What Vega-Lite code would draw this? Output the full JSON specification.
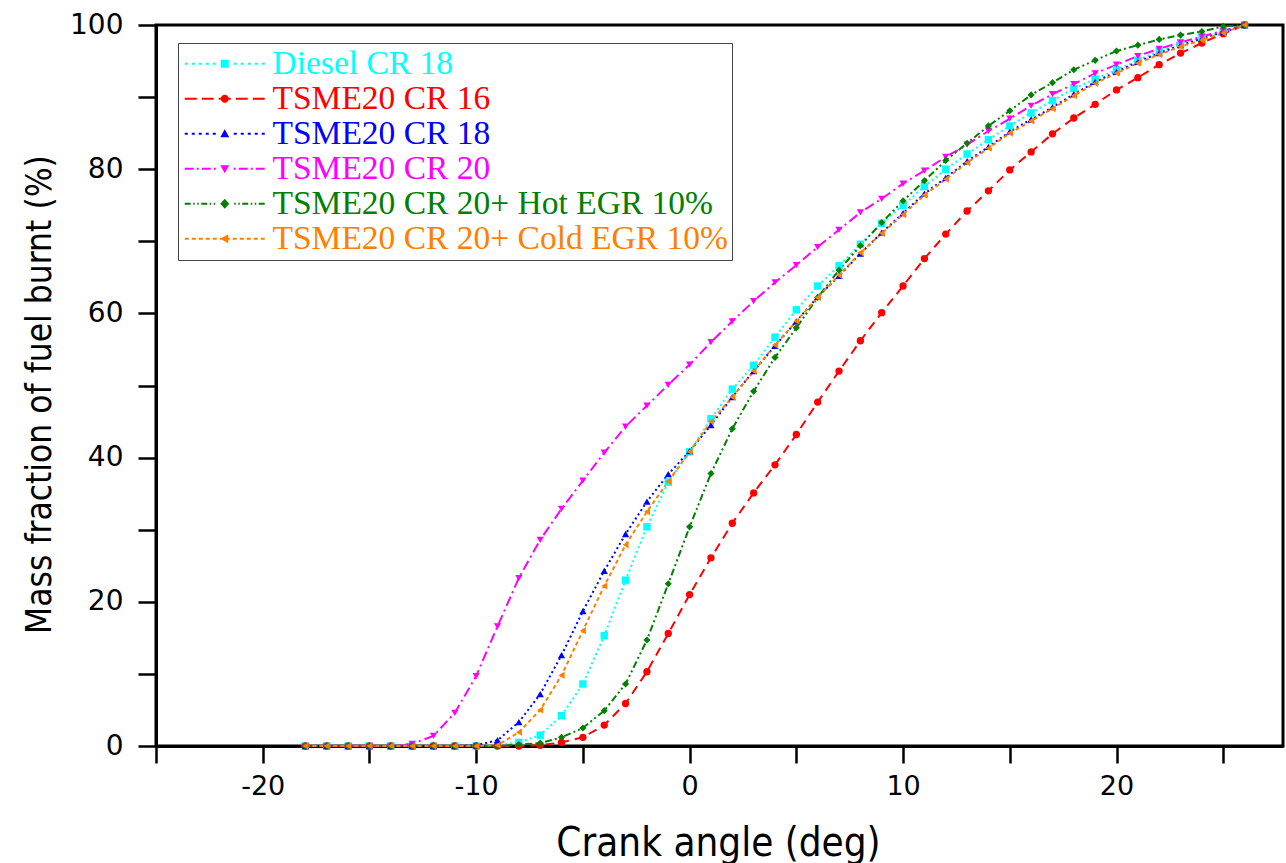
{
  "$schema": "https://vega.github.io/schema/vega-lite/v6.json",
  "width": 1127,
  "height": 721,
  "autosize": {"type": "none"},
  "padding": {"left": 156, "top": 25, "right": 3, "bottom": 117},
  "background": "white",
  "config": {"view": {"stroke": "black", "strokeWidth": 3}},
  "data": {"values": [
    {"angle": -18, "Diesel CR 18": 0, "TSME20 CR 16": 0, "TSME20 CR 18": 0, "TSME20 CR 20": 0, "TSME20 CR 20+ Hot EGR 10%": 0, "TSME20 CR 20+ Cold EGR 10%": 0},
    {"angle": -17, "Diesel CR 18": 0, "TSME20 CR 16": 0, "TSME20 CR 18": 0, "TSME20 CR 20": 0, "TSME20 CR 20+ Hot EGR 10%": 0, "TSME20 CR 20+ Cold EGR 10%": 0},
    {"angle": -16, "Diesel CR 18": 0, "TSME20 CR 16": 0, "TSME20 CR 18": 0, "TSME20 CR 20": 0, "TSME20 CR 20+ Hot EGR 10%": 0, "TSME20 CR 20+ Cold EGR 10%": 0},
    {"angle": -15, "Diesel CR 18": 0, "TSME20 CR 16": 0, "TSME20 CR 18": 0, "TSME20 CR 20": 0, "TSME20 CR 20+ Hot EGR 10%": 0, "TSME20 CR 20+ Cold EGR 10%": 0},
    {"angle": -14, "Diesel CR 18": 0, "TSME20 CR 16": 0, "TSME20 CR 18": 0, "TSME20 CR 20": 0, "TSME20 CR 20+ Hot EGR 10%": 0, "TSME20 CR 20+ Cold EGR 10%": 0},
    {"angle": -13, "Diesel CR 18": 0, "TSME20 CR 16": 0, "TSME20 CR 18": 0, "TSME20 CR 20": 0.3, "TSME20 CR 20+ Hot EGR 10%": 0, "TSME20 CR 20+ Cold EGR 10%": 0},
    {"angle": -12, "Diesel CR 18": 0, "TSME20 CR 16": 0, "TSME20 CR 18": 0, "TSME20 CR 20": 1.4, "TSME20 CR 20+ Hot EGR 10%": 0, "TSME20 CR 20+ Cold EGR 10%": 0},
    {"angle": -11, "Diesel CR 18": 0, "TSME20 CR 16": 0, "TSME20 CR 18": 0, "TSME20 CR 20": 4.6, "TSME20 CR 20+ Hot EGR 10%": 0, "TSME20 CR 20+ Cold EGR 10%": 0},
    {"angle": -10, "Diesel CR 18": 0, "TSME20 CR 16": 0, "TSME20 CR 18": 0.1, "TSME20 CR 20": 9.7, "TSME20 CR 20+ Hot EGR 10%": 0, "TSME20 CR 20+ Cold EGR 10%": 0},
    {"angle": -9, "Diesel CR 18": 0.1, "TSME20 CR 16": 0, "TSME20 CR 18": 0.8, "TSME20 CR 20": 16.6, "TSME20 CR 20+ Hot EGR 10%": 0, "TSME20 CR 20+ Cold EGR 10%": 0.1},
    {"angle": -8, "Diesel CR 18": 0.5, "TSME20 CR 16": 0, "TSME20 CR 18": 3.3, "TSME20 CR 20": 23.3, "TSME20 CR 20+ Hot EGR 10%": 0.2, "TSME20 CR 20+ Cold EGR 10%": 1.9},
    {"angle": -7, "Diesel CR 18": 1.5, "TSME20 CR 16": 0.1, "TSME20 CR 18": 7.2, "TSME20 CR 20": 28.6, "TSME20 CR 20+ Hot EGR 10%": 0.4, "TSME20 CR 20+ Cold EGR 10%": 5},
    {"angle": -6, "Diesel CR 18": 4.2, "TSME20 CR 16": 0.5, "TSME20 CR 18": 12.6, "TSME20 CR 20": 32.9, "TSME20 CR 20+ Hot EGR 10%": 1.2, "TSME20 CR 20+ Cold EGR 10%": 9.8},
    {"angle": -5, "Diesel CR 18": 8.6, "TSME20 CR 16": 1.2, "TSME20 CR 18": 18.7, "TSME20 CR 20": 36.8, "TSME20 CR 20+ Hot EGR 10%": 2.5, "TSME20 CR 20+ Cold EGR 10%": 16},
    {"angle": -4, "Diesel CR 18": 15.3, "TSME20 CR 16": 2.9, "TSME20 CR 18": 24.3, "TSME20 CR 20": 40.7, "TSME20 CR 20+ Hot EGR 10%": 4.9, "TSME20 CR 20+ Cold EGR 10%": 22.2},
    {"angle": -3, "Diesel CR 18": 23, "TSME20 CR 16": 5.9, "TSME20 CR 18": 29.4, "TSME20 CR 20": 44.3, "TSME20 CR 20+ Hot EGR 10%": 8.6, "TSME20 CR 20+ Cold EGR 10%": 27.9},
    {"angle": -2, "Diesel CR 18": 30.4, "TSME20 CR 16": 10.3, "TSME20 CR 18": 33.9, "TSME20 CR 20": 47.2, "TSME20 CR 20+ Hot EGR 10%": 14.7, "TSME20 CR 20+ Cold EGR 10%": 32.5},
    {"angle": -1, "Diesel CR 18": 36.6, "TSME20 CR 16": 15.6, "TSME20 CR 18": 37.7, "TSME20 CR 20": 50.1, "TSME20 CR 20+ Hot EGR 10%": 22.5, "TSME20 CR 20+ Cold EGR 10%": 36.7},
    {"angle": 0, "Diesel CR 18": 40.8, "TSME20 CR 16": 21, "TSME20 CR 18": 40.9, "TSME20 CR 20": 52.9, "TSME20 CR 20+ Hot EGR 10%": 30.4, "TSME20 CR 20+ Cold EGR 10%": 40.8},
    {"angle": 1, "Diesel CR 18": 45.4, "TSME20 CR 16": 26.1, "TSME20 CR 18": 44.5, "TSME20 CR 20": 56, "TSME20 CR 20+ Hot EGR 10%": 37.8, "TSME20 CR 20+ Cold EGR 10%": 45},
    {"angle": 2, "Diesel CR 18": 49.5, "TSME20 CR 16": 30.9, "TSME20 CR 18": 48.4, "TSME20 CR 20": 58.9, "TSME20 CR 20+ Hot EGR 10%": 44, "TSME20 CR 20+ Cold EGR 10%": 48.4},
    {"angle": 3, "Diesel CR 18": 52.8, "TSME20 CR 16": 35.1, "TSME20 CR 18": 52, "TSME20 CR 20": 61.7, "TSME20 CR 20+ Hot EGR 10%": 49.2, "TSME20 CR 20+ Cold EGR 10%": 52},
    {"angle": 4, "Diesel CR 18": 56.7, "TSME20 CR 16": 39, "TSME20 CR 18": 55.5, "TSME20 CR 20": 64.3, "TSME20 CR 20+ Hot EGR 10%": 53.9, "TSME20 CR 20+ Cold EGR 10%": 55.6},
    {"angle": 5, "Diesel CR 18": 60.5, "TSME20 CR 16": 43.2, "TSME20 CR 18": 58.9, "TSME20 CR 20": 66.7, "TSME20 CR 20+ Hot EGR 10%": 58, "TSME20 CR 20+ Cold EGR 10%": 58.9},
    {"angle": 6, "Diesel CR 18": 63.8, "TSME20 CR 16": 47.7, "TSME20 CR 18": 62.3, "TSME20 CR 20": 69.2, "TSME20 CR 20+ Hot EGR 10%": 62.2, "TSME20 CR 20+ Cold EGR 10%": 62.2},
    {"angle": 7, "Diesel CR 18": 66.6, "TSME20 CR 16": 52, "TSME20 CR 18": 65.2, "TSME20 CR 20": 71.6, "TSME20 CR 20+ Hot EGR 10%": 66, "TSME20 CR 20+ Cold EGR 10%": 65.3},
    {"angle": 8, "Diesel CR 18": 69.6, "TSME20 CR 16": 56.2, "TSME20 CR 18": 68.3, "TSME20 CR 20": 74, "TSME20 CR 20+ Hot EGR 10%": 69.4, "TSME20 CR 20+ Cold EGR 10%": 68.4},
    {"angle": 9, "Diesel CR 18": 72.5, "TSME20 CR 16": 60.1, "TSME20 CR 18": 71.2, "TSME20 CR 20": 75.9, "TSME20 CR 20+ Hot EGR 10%": 72.6, "TSME20 CR 20+ Cold EGR 10%": 71.1},
    {"angle": 10, "Diesel CR 18": 75, "TSME20 CR 16": 63.8, "TSME20 CR 18": 73.9, "TSME20 CR 20": 78, "TSME20 CR 20+ Hot EGR 10%": 75.6, "TSME20 CR 20+ Cold EGR 10%": 73.7},
    {"angle": 11, "Diesel CR 18": 77.6, "TSME20 CR 16": 67.6, "TSME20 CR 18": 76.6, "TSME20 CR 20": 79.8, "TSME20 CR 20+ Hot EGR 10%": 78.4, "TSME20 CR 20+ Cold EGR 10%": 76.4},
    {"angle": 12, "Diesel CR 18": 80, "TSME20 CR 16": 71, "TSME20 CR 18": 78.8, "TSME20 CR 20": 81.7, "TSME20 CR 20+ Hot EGR 10%": 81.2, "TSME20 CR 20+ Cold EGR 10%": 78.6},
    {"angle": 13, "Diesel CR 18": 82.1, "TSME20 CR 16": 74.2, "TSME20 CR 18": 81.1, "TSME20 CR 20": 83.4, "TSME20 CR 20+ Hot EGR 10%": 83.6, "TSME20 CR 20+ Cold EGR 10%": 80.9},
    {"angle": 14, "Diesel CR 18": 84.1, "TSME20 CR 16": 77, "TSME20 CR 18": 83.1, "TSME20 CR 20": 85.3, "TSME20 CR 20+ Hot EGR 10%": 86, "TSME20 CR 20+ Cold EGR 10%": 82.9},
    {"angle": 15, "Diesel CR 18": 86, "TSME20 CR 16": 79.9, "TSME20 CR 18": 85.2, "TSME20 CR 20": 87, "TSME20 CR 20+ Hot EGR 10%": 88.1, "TSME20 CR 20+ Cold EGR 10%": 85},
    {"angle": 16, "Diesel CR 18": 87.8, "TSME20 CR 16": 82.4, "TSME20 CR 18": 86.9, "TSME20 CR 20": 88.8, "TSME20 CR 20+ Hot EGR 10%": 90.3, "TSME20 CR 20+ Cold EGR 10%": 86.7},
    {"angle": 17, "Diesel CR 18": 89.5, "TSME20 CR 16": 84.9, "TSME20 CR 18": 88.6, "TSME20 CR 20": 90.4, "TSME20 CR 20+ Hot EGR 10%": 92, "TSME20 CR 20+ Cold EGR 10%": 88.4},
    {"angle": 18, "Diesel CR 18": 91.2, "TSME20 CR 16": 87.1, "TSME20 CR 18": 90.4, "TSME20 CR 20": 91.8, "TSME20 CR 20+ Hot EGR 10%": 93.8, "TSME20 CR 20+ Cold EGR 10%": 90.2},
    {"angle": 19, "Diesel CR 18": 92.5, "TSME20 CR 16": 89, "TSME20 CR 18": 92.1, "TSME20 CR 20": 93.3, "TSME20 CR 20+ Hot EGR 10%": 95.1, "TSME20 CR 20+ Cold EGR 10%": 91.9},
    {"angle": 20, "Diesel CR 18": 93.8, "TSME20 CR 16": 91, "TSME20 CR 18": 93.5, "TSME20 CR 20": 94.5, "TSME20 CR 20+ Hot EGR 10%": 96.4, "TSME20 CR 20+ Cold EGR 10%": 93.3},
    {"angle": 21, "Diesel CR 18": 95.1, "TSME20 CR 16": 92.7, "TSME20 CR 18": 94.9, "TSME20 CR 20": 95.7, "TSME20 CR 20+ Hot EGR 10%": 97.2, "TSME20 CR 20+ Cold EGR 10%": 94.7},
    {"angle": 22, "Diesel CR 18": 96.4, "TSME20 CR 16": 94.5, "TSME20 CR 18": 96.1, "TSME20 CR 20": 96.7, "TSME20 CR 20+ Hot EGR 10%": 98, "TSME20 CR 20+ Cold EGR 10%": 95.9},
    {"angle": 23, "Diesel CR 18": 97.4, "TSME20 CR 16": 96.1, "TSME20 CR 18": 97.2, "TSME20 CR 20": 97.6, "TSME20 CR 20+ Hot EGR 10%": 98.6, "TSME20 CR 20+ Cold EGR 10%": 97},
    {"angle": 24, "Diesel CR 18": 98.3, "TSME20 CR 16": 97.5, "TSME20 CR 18": 98.1, "TSME20 CR 20": 98.4, "TSME20 CR 20+ Hot EGR 10%": 99.1, "TSME20 CR 20+ Cold EGR 10%": 97.9},
    {"angle": 25, "Diesel CR 18": 99.1, "TSME20 CR 16": 98.8, "TSME20 CR 18": 99, "TSME20 CR 20": 99.2, "TSME20 CR 20+ Hot EGR 10%": 99.8, "TSME20 CR 20+ Cold EGR 10%": 98.9},
    {"angle": 26, "Diesel CR 18": 100, "TSME20 CR 16": 100, "TSME20 CR 18": 100, "TSME20 CR 20": 100, "TSME20 CR 20+ Hot EGR 10%": 100, "TSME20 CR 20+ Cold EGR 10%": 100}
  ]},
  "transform": [
    {"fold": ["Diesel CR 18", "TSME20 CR 16", "TSME20 CR 18", "TSME20 CR 20", "TSME20 CR 20+ Hot EGR 10%", "TSME20 CR 20+ Cold EGR 10%"], "as": ["series", "mfb"]}
  ],
  "encoding": {
    "x": {
      "field": "angle", "type": "quantitative",
      "scale": {"domain": [-25, 27.8], "nice": false, "zero": false},
      "axis": {
        "values": [-25, -20, -15, -10, -5, 0, 5, 10, 15, 20, 25],
        "labelExpr": "datum.value % 10 === 0 ? toString(datum.value) : ''",
        "title": "Crank angle (deg)",
        "grid": false,
        "domainColor": "black", "domainWidth": 3,
        "tickColor": "black", "tickWidth": 2.5, "tickSize": 17,
        "labelPadding": 10, "labelFont": "DejaVu Sans", "labelFontSize": 27, "labelColor": "black",
        "labelFlush": false, "labelOverlap": false,
        "titleFont": "DejaVu Sans Condensed, DejaVu Sans", "titleFontSize": 40, "titleFontWeight": "normal", "titleColor": "black",
        "titleX": 562, "titleY": 109, "titleBaseline": "alphabetic", "titleAlign": "center"
      }
    },
    "y": {
      "field": "mfb", "type": "quantitative",
      "scale": {"domain": [0, 100], "nice": false},
      "axis": {
        "values": [0, 10, 20, 30, 40, 50, 60, 70, 80, 90, 100],
        "labelExpr": "datum.value % 20 === 0 ? toString(datum.value) : ''",
        "title": "Mass fraction of fuel burnt (%)",
        "grid": false,
        "domainColor": "black", "domainWidth": 3,
        "tickColor": "black", "tickWidth": 2.5, "tickSize": 18,
        "labelPadding": 15, "labelFont": "DejaVu Sans", "labelFontSize": 28, "labelColor": "black",
        "labelFlush": false, "labelOverlap": false,
        "titleFont": "DejaVu Sans Condensed, DejaVu Sans", "titleFontSize": 35, "titleFontWeight": "normal", "titleColor": "black",
        "titleX": -106, "titleY": 369, "titleBaseline": "alphabetic", "titleAlign": "center", "titleAngle": 270
      }
    }
  },
  "layer": [
    {
      "mark": {"type": "line", "strokeWidth": 2},
      "encoding": {
        "color": {"field": "series", "type": "nominal",
          "scale": {"domain": ["Diesel CR 18", "TSME20 CR 16", "TSME20 CR 18", "TSME20 CR 20", "TSME20 CR 20+ Hot EGR 10%", "TSME20 CR 20+ Cold EGR 10%"],
                    "range": ["#00FFFF", "#FF0000", "#0000FF", "#FF00FF", "#008000", "#FF8000"]},
          "legend": null},
        "strokeDash": {"field": "series", "type": "nominal",
          "scale": {"domain": ["Diesel CR 18", "TSME20 CR 16", "TSME20 CR 18", "TSME20 CR 20", "TSME20 CR 20+ Hot EGR 10%", "TSME20 CR 20+ Cold EGR 10%"],
                    "range": [[2, 3], [9, 6], [2, 3], [10, 4, 2, 4], [7, 3, 2, 3, 2, 3], [4, 3]]},
          "legend": null}
      }
    },
    {
      "mark": {"type": "point", "filled": true, "opacity": 1},
      "encoding": {
        "color": {"field": "series", "type": "nominal",
          "scale": {"domain": ["Diesel CR 18", "TSME20 CR 16", "TSME20 CR 18", "TSME20 CR 20", "TSME20 CR 20+ Hot EGR 10%", "TSME20 CR 20+ Cold EGR 10%"],
                    "range": ["#00FFFF", "#FF0000", "#0000FF", "#FF00FF", "#008000", "#FF8000"]},
          "legend": null},
        "shape": {"field": "series", "type": "nominal",
          "scale": {"domain": ["Diesel CR 18", "TSME20 CR 16", "TSME20 CR 18", "TSME20 CR 20", "TSME20 CR 20+ Hot EGR 10%", "TSME20 CR 20+ Cold EGR 10%"],
                    "range": ["square", "circle", "triangle-up", "triangle-down", "diamond", "triangle-left"]},
          "legend": null},
        "size": {"field": "series", "type": "nominal",
          "scale": {"domain": ["Diesel CR 18", "TSME20 CR 16", "TSME20 CR 18", "TSME20 CR 20", "TSME20 CR 20+ Hot EGR 10%", "TSME20 CR 20+ Cold EGR 10%"],
                    "range": [55, 50, 95, 95, 80, 95]},
          "legend": null}
      }
    },
    {
      "transform": [{"filter": "false"}],
      "mark": {"type": "point", "filled": true, "size": 100, "opacity": 1},
      "encoding": {
        "color": {"field": "series", "type": "nominal",
          "scale": {"domain": ["Diesel CR 18", "TSME20 CR 16", "TSME20 CR 18", "TSME20 CR 20", "TSME20 CR 20+ Hot EGR 10%", "TSME20 CR 20+ Cold EGR 10%"],
                    "range": ["#00FFFF", "#FF0000", "#0000FF", "#FF00FF", "#008000", "#FF8000"]},
          "legend": {
            "title": null,
            "orient": "none",
            "legendX": 22,
            "legendY": 18,
            "padding": 4,
            "strokeColor": "#444444",
            "fillColor": "white",
            "symbolSize": 100,
            "symbolOffset": 26,
            "symbolStrokeWidth": 0,
            "labelOffset": 31,
            "labelFont": "Liberation Serif",
            "labelFontSize": 33.5,
            "labelLimit": 0,
            "rowPadding": 0,
            "labelColor": {"expr": "datum.value === 'Diesel CR 18' ? '#00FFFF' : datum.value === 'TSME20 CR 16' ? '#FF0000' : datum.value === 'TSME20 CR 18' ? '#0000FF' : datum.value === 'TSME20 CR 20' ? '#FF00FF' : datum.value === 'TSME20 CR 20+ Hot EGR 10%' ? '#008000' : '#FF8000'"}
          }},
        "shape": {"field": "series", "type": "nominal",
          "scale": {"domain": ["Diesel CR 18", "TSME20 CR 16", "TSME20 CR 18", "TSME20 CR 20", "TSME20 CR 20+ Hot EGR 10%", "TSME20 CR 20+ Cold EGR 10%"],
                    "range": [
                      "M-8,-0.2H-7.4V0.2H-8ZM-6.6,-0.2H-6V0.2H-6.6ZM-5.2,-0.2H-4.6V0.2H-5.2ZM-3.8,-0.2H-3.2V0.2H-3.8ZM-2.4,-0.2H-1.8V0.2H-2.4ZM-0.8,-0.8H0.8V0.8H-0.8ZM1.8,-0.2H2.4V0.2H1.8ZM3.2,-0.2H3.8V0.2H3.2ZM4.6,-0.2H5.2V0.2H4.6ZM6,-0.2H6.6V0.2H6ZM7.4,-0.2H8V0.2H7.4Z",
                      "M-8,-0.2H-5.6V0.2H-8ZM-4.6,-0.2H-2.2V0.2H-4.6ZM-1.2,-0.2H1.2V0.2H-1.2ZM2.2,-0.2H4.6V0.2H2.2ZM5.6,-0.2H8V0.2H5.6ZM0.8,0A0.8,0.8 0 1,1 -0.8,0A0.8,0.8 0 1,1 0.8,0Z",
                      "M-8,-0.2H-7.4V0.2H-8ZM-6.6,-0.2H-6V0.2H-6.6ZM-5.2,-0.2H-4.6V0.2H-5.2ZM-3.8,-0.2H-3.2V0.2H-3.8ZM-2.4,-0.2H-1.8V0.2H-2.4ZM0,-0.9L0.9,0.7L-0.9,0.7ZM1.8,-0.2H2.4V0.2H1.8ZM3.2,-0.2H3.8V0.2H3.2ZM4.6,-0.2H5.2V0.2H4.6ZM6,-0.2H6.6V0.2H6ZM7.4,-0.2H8V0.2H7.4Z",
                      "M-8,-0.2H-6.2V0.2H-8ZM-5.6,-0.2H-5.2V0.2H-5.6ZM-4.6,-0.2H-2.8V0.2H-4.6ZM-2.2,-0.2H-1.8V0.2H-2.2ZM-0.9,-0.7L0.9,-0.7L0,0.9ZM1.8,-0.2H2.2V0.2H1.8ZM2.8,-0.2H4.6V0.2H2.8ZM5.2,-0.2H5.6V0.2H5.2ZM6.2,-0.2H8V0.2H6.2Z",
                      "M-8,-0.2H-6.8V0.2H-8ZM-6.3,-0.2H-6V0.2H-6.3ZM-5.5,-0.2H-5.2V0.2H-5.5ZM-4.7,-0.2H-3.5V0.2H-4.7ZM-3,-0.2H-2.7V0.2H-3ZM-2.2,-0.2H-1.9V0.2H-2.2ZM0,-1L0.9,0L0,1L-0.9,0ZM1.9,-0.2H2.2V0.2H1.9ZM2.7,-0.2H3V0.2H2.7ZM3.5,-0.2H4.7V0.2H3.5ZM5.2,-0.2H5.5V0.2H5.2ZM6,-0.2H6.3V0.2H6ZM6.8,-0.2H8V0.2H6.8Z",
                      "M-8,-0.2H-7.2V0.2H-8ZM-6.6,-0.2H-5.8V0.2H-6.6ZM-5.2,-0.2H-4.4V0.2H-5.2ZM-3.8,-0.2H-3V0.2H-3.8ZM-2.4,-0.2H-1.6V0.2H-2.4ZM-1,-0.2H1V0.2H-1ZM-0.9,0L0.7,-0.9L0.7,0.9ZM1.6,-0.2H2.4V0.2H1.6ZM3,-0.2H3.8V0.2H3ZM4.4,-0.2H5.2V0.2H4.4ZM5.8,-0.2H6.6V0.2H5.8ZM7.2,-0.2H8V0.2H7.2Z"
                    ]},
          "legend": {
            "title": null,
            "orient": "none",
            "legendX": 22,
            "legendY": 18,
            "padding": 4,
            "strokeColor": "#444444",
            "fillColor": "white",
            "symbolSize": 100,
            "symbolOffset": 26,
            "symbolStrokeWidth": 0,
            "labelOffset": 31,
            "labelFont": "Liberation Serif",
            "labelFontSize": 33.5,
            "labelLimit": 0,
            "rowPadding": 0,
            "labelColor": {"expr": "datum.value === 'Diesel CR 18' ? '#00FFFF' : datum.value === 'TSME20 CR 16' ? '#FF0000' : datum.value === 'TSME20 CR 18' ? '#0000FF' : datum.value === 'TSME20 CR 20' ? '#FF00FF' : datum.value === 'TSME20 CR 20+ Hot EGR 10%' ? '#008000' : '#FF8000'"}
          }
        }
      }
    }
  ],
  "resolve": {
    "scale": {"shape": "independent", "color": "independent"},
    "legend": {"shape": "independent", "color": "independent"}
  }
}
